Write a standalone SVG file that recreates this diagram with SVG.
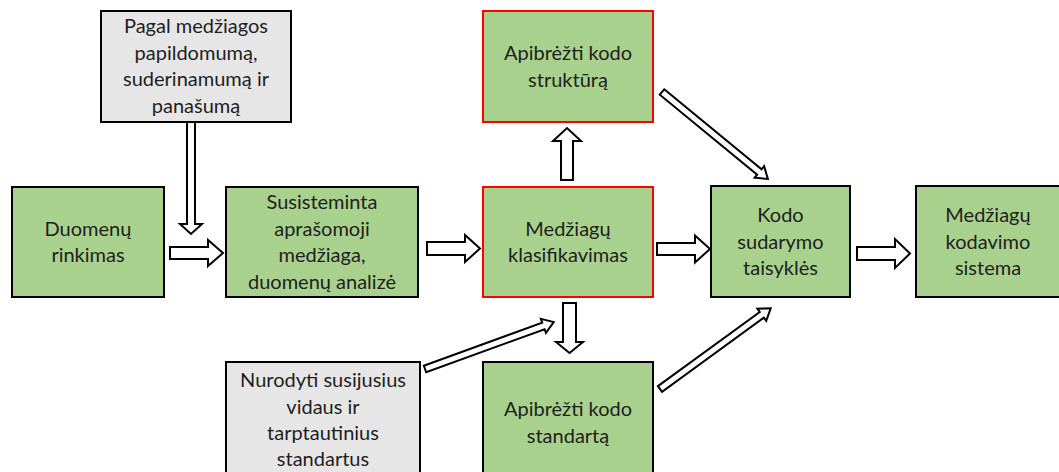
<svg xmlns="http://www.w3.org/2000/svg" width="1059" height="472" viewBox="0 0 1059 472">
<style>
.g{fill:#A9D18E;stroke:#000;stroke-width:2}
.r{fill:#A9D18E;stroke:#FF0000;stroke-width:2}
.n{fill:#E7E6E6;stroke:#000;stroke-width:2}
.t{font-family:Lato,"Liberation Sans",sans-serif;font-size:20px;fill:#1e1e1e;text-anchor:middle}
.a{fill:#fff;stroke:#000;stroke-width:2;stroke-linejoin:miter}
</style>
<defs>
<polygon id="diag" class="a" points="0,-3.5 126,-3.5 126,-7.5 137,0 126,7.5 126,3.5 0,3.5"/>
</defs>
<rect width="1059" height="472" fill="#fff"/>
<g id="connectors">
<polygon class="a" points="187,122 195,122 195,224 202,224 191,234 180,224 187,224"/>
<polygon class="a" points="170,247 208,247 208,240 223,253 208,266 208,259 170,259"/>
<polygon class="a" points="427,242 465,242 465,235 480,248.5 465,262 465,255 427,255"/>
<polygon class="a" points="657,243 695,243 695,235.5 710,249 695,262.5 695,255 657,255"/>
<polygon class="a" points="857,247 895,247 895,239 910,253.5 895,268 895,260 857,260"/>
<polygon class="a" points="561,180 573,180 573,141 581,141 567,128 553,141 561,141"/>
<polygon class="a" points="563,303 576,303 576,342 583,342 569.5,353 556,342 563,342"/>
<use href="#diag" transform="translate(662,92) rotate(39.4)"/>
<use href="#diag" transform="translate(425,369) rotate(-20)"/>
<use href="#diag" transform="translate(660,389) rotate(-36.1)"/>
</g>
<g id="node-pagal">
<rect class="n" x="101" y="11" width="190" height="111"/>
<text class="t" x="196" y="33">Pagal medžiagos</text>
<text class="t" x="196" y="60">papildomumą,</text>
<text class="t" x="196" y="86">suderinamumą ir</text>
<text class="t" x="196" y="113">panašumą</text>
</g>
<g id="node-duomenu">
<rect class="g" x="12" y="187" width="152" height="110"/>
<text class="t" x="88" y="236">Duomenų</text>
<text class="t" x="88" y="262">rinkimas</text>
</g>
<g id="node-susisteminta">
<rect class="g" x="226" y="187" width="192" height="110"/>
<text class="t" x="322" y="209">Susisteminta</text>
<text class="t" x="322" y="236">aprašomoji</text>
<text class="t" x="322" y="262">medžiaga,</text>
<text class="t" x="322" y="289">duomenų analizė</text>
</g>
<g id="node-struktura">
<rect class="r" x="483" y="11" width="170" height="111"/>
<text class="t" x="568" y="60">Apibrėžti kodo</text>
<text class="t" x="568" y="87">struktūrą</text>
</g>
<g id="node-klasifikavimas">
<rect class="r" x="483" y="187" width="170" height="110"/>
<text class="t" x="568" y="236">Medžiagų</text>
<text class="t" x="568" y="262">klasifikavimas</text>
</g>
<g id="node-kodo">
<rect class="g" x="711" y="186" width="139" height="111"/>
<text class="t" x="780.5" y="222">Kodo</text>
<text class="t" x="780.5" y="249">sudarymo</text>
<text class="t" x="780.5" y="275">taisyklės</text>
</g>
<g id="node-sistema">
<rect class="g" x="916" y="186" width="150" height="111"/>
<text class="t" x="988" y="222">Medžiagų</text>
<text class="t" x="988" y="249">kodavimo</text>
<text class="t" x="988" y="275">sistema</text>
</g>
<g id="node-nurodyti">
<rect class="n" x="226" y="362" width="194" height="120"/>
<text class="t" x="323" y="387">Nurodyti susijusius</text>
<text class="t" x="323" y="414">vidaus ir</text>
<text class="t" x="323" y="440">tarptautinius</text>
<text class="t" x="323" y="466">standartus</text>
</g>
<g id="node-standarta">
<rect class="g" x="483" y="362" width="170" height="120"/>
<text class="t" x="568" y="416">Apibrėžti kodo</text>
<text class="t" x="568" y="443">standartą</text>
</g>
</svg>
